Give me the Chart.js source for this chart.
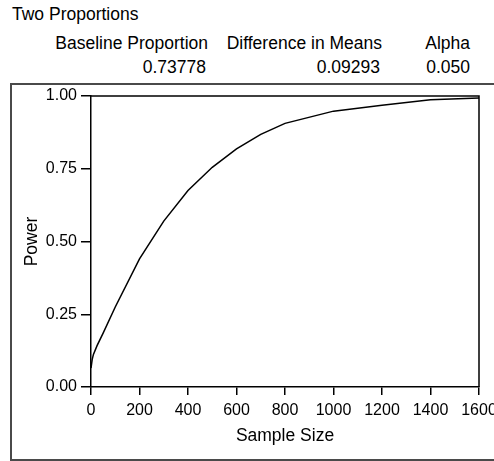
<!DOCTYPE html>
<html lang="en">
<head>
  <meta charset="UTF-8">
  <title>Two Proportions</title>
  <script src="https://cdn.jsdelivr.net/npm/chart.js"></script>
  <style>
    html, body {
      margin: 0;
      padding: 0;
      width: 494px;
      height: 461px;
      overflow: hidden;
      background: #fff;
      font-family: "Liberation Sans", Arial, sans-serif;
      color: #000;
    }
    .txt {
      position: absolute;
      font-size: 17.5px;
      line-height: 20px;
      white-space: nowrap;
    }
    .right { text-align: right; }
    .frame {
      position: absolute;
      left: 10px;
      top: 83px;
      width: 520px;
      height: 374px;
      border: 2px solid #4a4a4a;
    }
    #power-chart {
      position: absolute;
      left: 0;
      top: 0;
    }
  </style>
</head>
<body>
<div class="txt" style="left:12px; top:4px;">Two Proportions</div>

<div class="txt right" style="right:286px; top:33px;">Baseline Proportion</div>
<div class="txt right" style="right:112px; top:33px;">Difference in Means</div>
<div class="txt right" style="right:24px; top:33px;">Alpha</div>

<div class="txt right" style="right:288px; top:57px;">0.73778</div>
<div class="txt right" style="right:114px; top:57px;">0.09293</div>
<div class="txt right" style="right:24px; top:57px;">0.050</div>

<div class="frame"></div>
<canvas id="power-chart" width="494" height="461"></canvas>

<script>
// power curve
const sampleSize = [0, 5, 10, 25, 50, 100, 200, 300, 400, 500, 600, 700, 800, 1000, 1200, 1400, 1600];
const power = [0.065, 0.095, 0.112, 0.142, 0.185, 0.275, 0.44, 0.57, 0.675, 0.755, 0.818, 0.868, 0.906, 0.948, 0.968, 0.987, 0.993];
const xTicks = [0, 200, 400, 600, 800, 1000, 1200, 1400, 1600];
const yTicks = [0, 0.25, 0.5, 0.75, 1];

Chart.defaults.font.family = '"Liberation Sans", Arial, sans-serif';
Chart.defaults.color = '#000';

// top and right sides of the plot frame
const frameBox = {
  id: 'frameBox',
  afterDraw(chart) {
    const { ctx, chartArea: a } = chart;
    ctx.save();
    ctx.strokeStyle = '#000';
    ctx.lineWidth = 1.5;
    ctx.beginPath();
    ctx.moveTo(a.left, a.top);
    ctx.lineTo(a.right, a.top);
    ctx.lineTo(a.right, a.bottom);
    ctx.stroke();
    ctx.restore();
  }
};

new Chart(document.getElementById('power-chart'), {
  type: 'line',
  data: {
    datasets: [{
      data: sampleSize.map((n, i) => ({ x: n, y: power[i] })),
      borderColor: '#000',
      borderWidth: 1.5,
      pointRadius: 0,
      tension: 0,
      fill: false
    }]
  },
  options: {
    responsive: false,
    animation: false,
    layout: { padding: { left: 20, top: 96, right: 15, bottom: 10 } },
    plugins: {
      legend: { display: false },
      tooltip: { enabled: false }
    },
    scales: {
      x: {
        type: 'linear',
        min: 0,
        max: 1600,
        afterBuildTicks: s => { s.ticks = xTicks.map(v => ({ value: v })); },
        afterFit: s => { s.height = 64; s.paddingLeft = 0; s.paddingRight = 0; },
        ticks: { font: { size: 16 }, padding: 6, maxRotation: 0, autoSkip: false, callback: v => String(v) },
        grid: { drawOnChartArea: false, color: '#000', tickLength: 8, lineWidth: 1.5 },
        border: { color: '#000', width: 1.5 },
        title: { display: true, text: 'Sample Size', font: { size: 17.5 }, padding: 4 }
      },
      y: {
        min: 0,
        max: 1,
        afterBuildTicks: s => { s.ticks = yTicks.map(v => ({ value: v })); },
        afterFit: s => { s.width = 71; s.paddingTop = 0; s.paddingBottom = 0; },
        ticks: { font: { size: 16 }, padding: 4, callback: v => v.toFixed(2) },
        grid: { drawOnChartArea: false, color: '#000', tickLength: 10, lineWidth: 1.5 },
        border: { color: '#000', width: 1.5 },
        title: { display: true, text: 'Power', font: { size: 17.5 }, padding: { top: 2, bottom: 2 } }
      }
    }
  },
  plugins: [frameBox]
});
</script>
</body>
</html>
